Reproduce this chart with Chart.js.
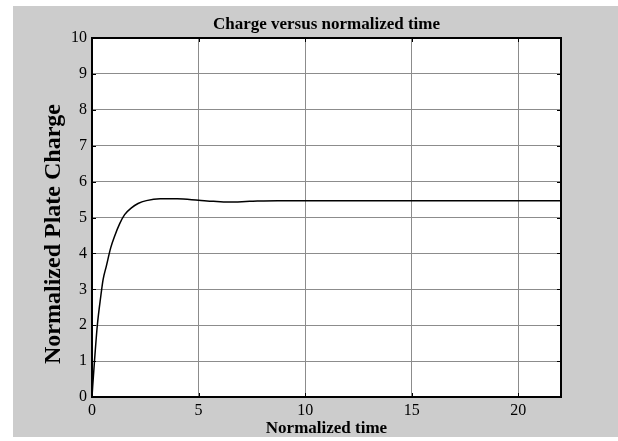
<!DOCTYPE html>
<html>
<head>
<meta charset="utf-8">
<script src="https://cdn.jsdelivr.net/npm/chart.js@4"></script>
<style>
  html, body { margin: 0; padding: 0; background: #ffffff; }
  #wrap { width: 618px; height: 441px; position: relative; }
</style>
</head>
<body>
<div id="wrap"><canvas id="chart" width="618" height="441"></canvas></div>
<script>
// Normalized time samples and the plate charge at each one
const timeValues   = [0, 0.03, 0.12, 0.25, 0.41, 0.52, 0.67, 0.88, 1.06, 1.30, 1.53, 1.85, 2.16, 2.55, 3.20, 4.00, 5.00, 5.70, 6.40, 7.40, 8.70, 10, 12, 14, 16, 18, 20, 22];
const chargeValues = [0, 0.28, 1.03, 2.00, 2.80, 3.27, 3.64, 4.16, 4.48, 4.83, 5.08, 5.27, 5.39, 5.47, 5.52, 5.52, 5.48, 5.45, 5.43, 5.45, 5.47, 5.47, 5.47, 5.47, 5.47, 5.47, 5.47, 5.47];

// Axis tick labels
const xTickValues = [0, 5, 10, 15, 20];
const yTickValues = [0, 1, 2, 3, 4, 5, 6, 7, 8, 9, 10];

const chartTitle = 'Charge versus normalized time';
const yAxisTitle = 'Normalized Plate Charge';
const SERIF = '"Liberation Serif", "Times New Roman", serif';

const points = timeValues.map((t, i) => ({ x: t, y: chargeValues[i] }));

// Grey figure backdrop and white axes box
const backdrop = {
  id: 'backdrop',
  beforeDraw(chart) {
    const { ctx, chartArea: a } = chart;
    ctx.save();
    ctx.fillStyle = '#cccccc';
    ctx.fillRect(13, 6, 605, 431);
    ctx.fillStyle = '#ffffff';
    ctx.fillRect(a.left, a.top, a.right - a.left, a.bottom - a.top);
    ctx.restore();
  }
};

// Axes frame with inward tick marks on all four sides, plus the title and y-axis label
const frame = {
  id: 'frame',
  afterDraw(chart) {
    const { ctx, chartArea: a, scales } = chart;
    ctx.save();
    ctx.strokeStyle = '#000000';
    ctx.lineWidth = 1;
    const len = 4;
    ctx.beginPath();
    xTickValues.forEach(v => {
      const px = Math.round(scales.x.getPixelForValue(v)) + 0.5;
      ctx.moveTo(px, a.bottom); ctx.lineTo(px, a.bottom - len);
      ctx.moveTo(px, a.top); ctx.lineTo(px, a.top + len);
    });
    yTickValues.forEach(v => {
      const py = Math.round(scales.y.getPixelForValue(v)) + 0.5;
      ctx.moveTo(a.left, py); ctx.lineTo(a.left + len, py);
      ctx.moveTo(a.right, py); ctx.lineTo(a.right - len, py);
    });
    ctx.stroke();
    ctx.lineWidth = 2;
    ctx.strokeRect(a.left, a.top, a.right - a.left, a.bottom - a.top);

    ctx.fillStyle = '#000000';
    ctx.textAlign = 'center';
    ctx.textBaseline = 'middle';
    ctx.font = 'bold 17px ' + SERIF;
    ctx.fillText(chartTitle, (a.left + a.right) / 2, 25);

    ctx.translate(54, 234);
    ctx.rotate(-Math.PI / 2);
    ctx.font = 'bold 24px ' + SERIF;
    ctx.fillText(yAxisTitle, 0, 0);
    ctx.restore();
  }
};

new Chart(document.getElementById('chart'), {
  type: 'scatter',
  data: {
    datasets: [{
      data: points,
      showLine: true,
      borderColor: '#000000',
      borderWidth: 1.5,
      pointRadius: 0,
      cubicInterpolationMode: 'monotone',
      fill: false
    }]
  },
  options: {
    responsive: false,
    animation: false,
    events: [],
    layout: { padding: { left: 0, right: 57, top: 38, bottom: 0 } },
    plugins: {
      legend: { display: false },
      tooltip: { enabled: false },
      title: { display: false }
    },
    scales: {
      x: {
        type: 'linear',
        min: 0,
        max: 22,
        afterBuildTicks(scale) { scale.ticks = xTickValues.map(v => ({ value: v })); },
        afterFit(scale) { scale.height = 44; },
        border: { display: false },
        grid: { color: '#8c8c8c', lineWidth: 1, drawTicks: false },
        ticks: {
          color: '#000000',
          padding: 4,
          maxRotation: 0,
          font: { family: SERIF, size: 16 }
        },
        title: {
          display: true,
          text: 'Normalized time',
          color: '#000000',
          font: { family: SERIF, size: 17, weight: 'bold' },
          padding: { top: 0, bottom: 2 }
        }
      },
      y: {
        type: 'linear',
        min: 0,
        max: 10,
        afterBuildTicks(scale) { scale.ticks = yTickValues.map(v => ({ value: v })); },
        afterFit(scale) { scale.width = 92; },
        border: { display: false },
        grid: { color: '#8c8c8c', lineWidth: 1, drawTicks: false },
        ticks: {
          color: '#000000',
          padding: 5,
          font: { family: SERIF, size: 16 }
        },
        title: { display: false }
      }
    }
  },
  plugins: [backdrop, frame]
});
</script>
</body>
</html>
